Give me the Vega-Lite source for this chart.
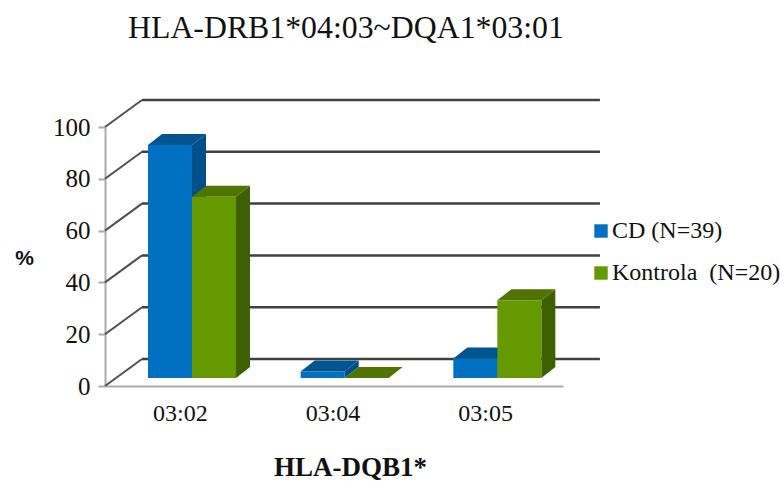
{
  "$schema": "https://vega.github.io/schema/vega-lite/v6.json",
  "width": 458, "height": 259,
  "autosize": "none",
  "padding": {"left": 105, "top": 127, "right": 217, "bottom": 95},
  "background": "white",
  "title": {"text": "HLA-DRB1*04:03~DQA1*03:01", "font": "Liberation Serif", "fontSize": 31.8, "fontWeight": "normal", "color": "#111111", "anchor": "start", "frame": "group", "dx": 23, "offset": 54},
  "config": {"view": {"stroke": null}},
  "data": {"values": [
    {"allele": "03:02", "series": "CD (N=39)", "value": 90},
    {"allele": "03:02", "series": "Kontrola \u00a0(N=20)", "value": 70},
    {"allele": "03:04", "series": "CD (N=39)", "value": 2.5},
    {"allele": "03:04", "series": "Kontrola \u00a0(N=20)", "value": 0},
    {"allele": "03:05", "series": "CD (N=39)", "value": 7.5},
    {"allele": "03:05", "series": "Kontrola \u00a0(N=20)", "value": 30}
  ]},
  "transform": [
    {"calculate": "indexof(['03:02','03:04','03:05'], datum.allele)", "as": "i"},
    {"calculate": "datum.series == 'CD (N=39)' ? 0 : 1", "as": "s"},
    {"calculate": "0.2817 + datum.i + datum.s * 0.2882", "as": "x0"},
    {"calculate": "datum.x0 + 0.2882", "as": "x1"},
    {"calculate": "datum.value + 3.09", "as": "yT"}
  ],
  "layer": [
    {
      "data": {"values": [{"level": 0}, {"level": 20}, {"level": 40}, {"level": 60}, {"level": 80}, {"level": 100}]},
      "transform": [
        {"calculate": "datum.level + 10.42", "as": "back"},
        {"calculate": "0.2424", "as": "xa"},
        {"calculate": "3.242", "as": "xb"}
      ],
      "mark": {"type": "rule", "color": "#404040", "strokeWidth": 2.5},
      "encoding": {
        "x": {"field": "xa", "type": "quantitative"},
        "x2": {"field": "xb"},
        "y": {"field": "back", "type": "quantitative"}
      }
    },
    {
      "data": {"values": [{"level": 0}, {"level": 20}, {"level": 40}, {"level": 60}, {"level": 80}, {"level": 100}]},
      "transform": [
        {"calculate": "datum.level + 10.42", "as": "back"},
        {"calculate": "0", "as": "xa"},
        {"calculate": "0.2424", "as": "xb"}
      ],
      "mark": {"type": "rule", "color": "#505050", "strokeWidth": 2},
      "encoding": {
        "x": {"field": "xa", "type": "quantitative"},
        "x2": {"field": "xb"},
        "y": {"field": "level", "type": "quantitative"},
        "y2": {"field": "back"}
      }
    },
    {
      "transform": [
        {"calculate": "[0,1]", "as": "t"},
        {"flatten": ["t"]},
        {"calculate": "datum.x1 + datum.t * 0.0917", "as": "sx"},
        {"calculate": "3.09 + datum.t * 4.25", "as": "sy"},
        {"calculate": "datum.yT + datum.t * 4.25", "as": "sy2"}
      ],
      "mark": {"type": "area", "orient": "vertical", "opacity": 1},
      "encoding": {
        "x": {"field": "sx", "type": "quantitative"},
        "y": {"field": "sy", "type": "quantitative"},
        "y2": {"field": "sy2"},
        "detail": {"field": "allele"},
        "color": {"field": "series", "type": "nominal", "legend": null, "scale": {"domain": ["CD (N=39)", "Kontrola \u00a0(N=20)"], "range": ["#004F8A", "#3F6000"]}}
      }
    },
    {
      "transform": [
        {"calculate": "[0,1]", "as": "t"},
        {"flatten": ["t"]},
        {"calculate": "datum.x0 + datum.t * 0.0917", "as": "tx"},
        {"calculate": "datum.x1 + datum.t * 0.0917", "as": "tx2"},
        {"calculate": "datum.yT + datum.t * 4.25", "as": "ty"}
      ],
      "mark": {"type": "area", "orient": "horizontal", "opacity": 1},
      "encoding": {
        "y": {"field": "ty", "type": "quantitative"},
        "x": {"field": "tx", "type": "quantitative"},
        "x2": {"field": "tx2"},
        "detail": {"field": "allele"},
        "color": {"field": "series", "type": "nominal", "legend": null, "scale": {"domain": ["CD (N=39)", "Kontrola \u00a0(N=20)"], "range": ["#005591", "#4F7500"]}}
      }
    },
    {
      "mark": {"type": "rect"},
      "transform": [{"calculate": "3.09", "as": "base"}],
      "encoding": {
        "x": {
          "field": "x0", "type": "quantitative",
          "scale": {"domain": [0, 3], "nice": false, "zero": false},
          "axis": {
            "values": [0.5, 1.5, 2.5],
            "labelExpr": "['03:02','03:04','03:05'][datum.value - 0.5]",
            "title": "HLA-DQB1*", "titleFont": "Liberation Serif", "titleFontSize": 27, "titleFontWeight": "bold", "titleColor": "#111111",
            "titleX": 245, "titleY": 68,
            "labelFont": "Liberation Serif", "labelFontSize": 24, "labelColor": "#111111", "labelPadding": 15, "labelOffset": -1.5,
            "tickSize": 0, "domainColor": "#ababab", "domainWidth": 2, "grid": false
          }
        },
        "x2": {"field": "x1"},
        "y": {
          "field": "yT", "type": "quantitative",
          "scale": {"domain": [0, 100], "nice": false},
          "axis": {
            "values": [0, 20, 40, 60, 80, 100],
            "title": "%", "titleFont": "Liberation Sans", "titleFontSize": 21, "titleFontWeight": "bold", "titleAngle": 0, "titleColor": "#111111",
            "titleX": -81, "titleY": 141, "titleAlign": "center",
            "labelFont": "Liberation Serif", "labelFontSize": 25, "labelColor": "#111111", "labelPadding": 8,
            "tickSize": 7, "tickColor": "#ababab", "tickWidth": 2, "domainColor": "#ababab", "domainWidth": 2, "grid": false
          }
        },
        "y2": {"field": "base"},
        "color": {
          "field": "series", "type": "nominal",
          "scale": {"domain": ["CD (N=39)", "Kontrola \u00a0(N=20)"], "range": ["#0070C0", "#669900"]},
          "legend": {
            "title": null, "orient": "none", "legendX": 484, "legendY": 92,
            "symbolType": "square", "symbolSize": 180, "symbolStrokeWidth": 0, "labelFont": "Liberation Serif", "labelFontSize": 24, "labelColor": "#111111", "labelLimit": 300, "rowPadding": 18, "labelOffset": -1
          }
        }
      }
    }
  ],
  "resolve": {"scale": {"color": "independent"}}
}
